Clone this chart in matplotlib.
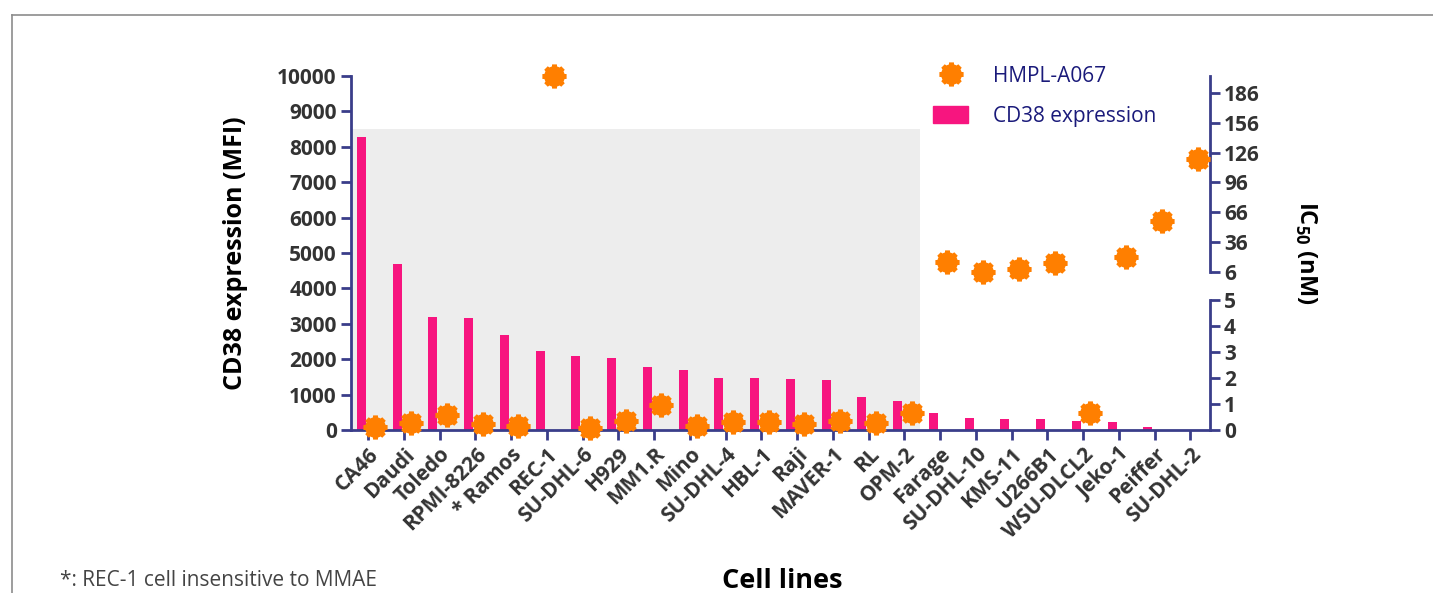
import numpy as np
import matplotlib
matplotlib.use("Agg")
import matplotlib.pyplot as plt
from matplotlib.lines import Line2D
from matplotlib.patches import Patch

plt.rcParams['font.family'] = ['Open Sans', 'DejaVu Sans']
plt.rcParams['mathtext.fontset'] = 'custom'
plt.rcParams['mathtext.rm'] = 'Open Sans:bold'
plt.rcParams['mathtext.bf'] = 'Open Sans:bold'

# data
cell_lines = ['CA46', 'Daudi', 'Toledo', 'RPMI-8226', '* Ramos', 'REC-1', 'SU-DHL-6',
              'H929', 'MM1.R', 'Mino', 'SU-DHL-4', 'HBL-1', 'Raji', 'MAVER-1', 'RL',
              'OPM-2', 'Farage', 'SU-DHL-10', 'KMS-11', 'U266B1', 'WSU-DLCL2',
              'Jeko-1', 'Peiffer', 'SU-DHL-2']
cd38_mfi = [8280, 4680, 3200, 3170, 2670, 2230, 2090, 2030, 1780, 1700, 1470, 1470,
            1440, 1410, 940, 830, 470, 330, 300, 300, 250, 215, 75, 0]
# IC50 in nM; REC-1 is insensitive and drawn at the top of the chart
ic50_nM = [0.10, 0.26, 0.58, 0.22, 0.17, np.nan, 0.06, 0.36, 0.96, 0.15, 0.30, 0.32,
           0.22, 0.36, 0.26, 0.67, 15.5, 6.0, 8.4, 14.4, 0.64, 21, 57, 120]
rec1_marker_mfi = 10000
lower_ticks = [0, 1, 2, 3, 4, 5]
upper_ticks = [6, 36, 66, 96, 126, 156, 186]

PINK = '#F7157F'
ORANGE = '#FF7F00'
NAVY = '#3A3D8A'
TXT = '#333333'


def draw_marker(axis, xs, ys, **kw):
    axis.plot(xs, ys, 'o', ms=14, color=ORANGE, mec=ORANGE, **kw)
    axis.plot(xs, ys, marker=(8, 2, 0), ls='none', ms=17, mew=3.5, color=ORANGE, **kw)


fig = plt.figure(figsize=(14.33, 5.93), dpi=100)
ax = fig.add_axes([0.2447, 0.2749, 0.5997, 0.5969])

x = np.arange(len(cell_lines))
ic = np.array(ic50_nM)

ax.axvspan(-0.5, 15.45, ymin=0, ymax=0.85, color='#EDEDED', lw=0, zorder=0)
ax.bar(x - 0.19, cd38_mfi, width=0.25, color=PINK, zorder=2)
ax.set_xlim(-0.49, 23.55)
ax.set_ylim(0, 10000)
ax.set_yticks(range(0, 10001, 1000))
ax.set_xticks(x)
ax.set_xticklabels(cell_lines, rotation=45, ha='right', rotation_mode='anchor',
                   fontsize=15, fontweight='bold', color=TXT)
for lab in ax.get_yticklabels():
    lab.set_fontsize(15)
    lab.set_fontweight('bold')
    lab.set_color(TXT)
for s in ['top', 'right']:
    ax.spines[s].set_visible(False)
for s in ['left', 'bottom']:
    ax.spines[s].set_color(NAVY)
    ax.spines[s].set_linewidth(2)
ax.tick_params(axis='both', direction='out', length=7, width=2, color=NAVY, pad=3)
ax.set_ylabel('CD38 expression (MFI)', fontsize=18, fontweight='bold', color='black')
ax.yaxis.set_label_coords(-0.12, 0.5)
draw_marker(ax, [5 + 0.2], [rec1_marker_mfi], clip_on=False, zorder=5)

# lower segment of the broken right axis (0-5 nM)
ax_lo = ax.twinx()
ax_lo.set_ylim(0, 5 * 354 / 130)
ax_lo.set_yticks(lower_ticks)
ax_lo.set_yticks([5], minor=True)
ax_lo.spines['right'].set_bounds(0, 5)
low = ic <= 5
draw_marker(ax_lo, x[low] + 0.2, ic[low], clip_on=False, zorder=5)

# upper segment (6 nM and above)
ax_hi = ax.twinx()
ax_hi.set_ylim(-153.4, 203.1)
ax_hi.set_yticks(upper_ticks)
ax_hi.set_yticks([6], minor=True)
ax_hi.spines['right'].set_bounds(6, 203.1)
high = ic > 5
draw_marker(ax_hi, x[high] + 0.2, ic[high], clip_on=False, zorder=5)

for a in (ax_lo, ax_hi):
    for s in ['top', 'left', 'bottom']:
        a.spines[s].set_visible(False)
    a.spines['right'].set_color(NAVY)
    a.spines['right'].set_linewidth(2)
    a.tick_params(axis='y', which='major', direction='out', length=7, width=2,
                  color=NAVY, pad=3)
    a.tick_params(axis='y', which='minor', direction='in', length=7, width=2,
                  color=NAVY)
    for lab in a.get_yticklabels():
        lab.set_fontsize(15)
        lab.set_fontweight('bold')
        lab.set_color(TXT)

ax_hi.set_ylabel(r'IC$_{50}$ (nM)', fontsize=17, fontweight='bold', color='black',
                 rotation=-90, va='center')
ax_hi.yaxis.set_label_coords(1.111, 0.5)

# legend
h_ic = (Line2D([], [], ls='none', marker='o', ms=14, color=ORANGE),
        Line2D([], [], ls='none', marker=(8, 2, 0), ms=17, mew=3.5, color=ORANGE))
h_bar = Patch(color=PINK)
fig.legend([h_ic, h_bar], ['HMPL-A067', 'CD38 expression'], loc='upper left',
           bbox_to_anchor=(0.638, 0.92), frameon=False, fontsize=15,
           labelcolor='#1A1A7A', handlelength=1.7, handleheight=0.9,
           handletextpad=1.2, labelspacing=0.9)

fig.text(782 / 1433, 0.008, 'Cell lines', ha='center', va='baseline',
         fontsize=19.5, fontweight='bold', color='black')
fig.text(60 / 1433, 0.012, '*: REC-1 cell insensitive to MMAE', ha='left',
         va='baseline', fontsize=15, color='#444444')

# page frame
fig.add_artist(Line2D([12 / 1433, 12 / 1433], [0, 1 - 15 / 593], color='#8C8C8C',
                      lw=1.2, transform=fig.transFigure))
fig.add_artist(Line2D([12 / 1433, 1], [1 - 15 / 593, 1 - 15 / 593], color='#8C8C8C',
                      lw=1.2, transform=fig.transFigure))

fig.savefig('out.png', dpi=100)
